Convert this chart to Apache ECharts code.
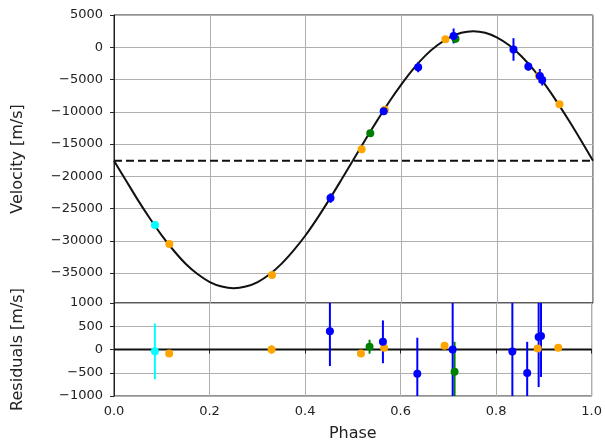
<!DOCTYPE html>
<html>
<head>
<meta charset="utf-8">
<script src="https://cdn.jsdelivr.net/npm/echarts@6/dist/echarts.min.js"></script>
<style>
  html, body { margin: 0; padding: 0; background: #fff; }
  #chart { width: 605px; height: 443px; }
</style>
</head>
<body>
<div id="chart"></div>
<script>
// Orbital fit curve, sampled along phase
const curvePhase = [0, 0.025, 0.05, 0.075, 0.1, 0.125, 0.15, 0.175, 0.2, 0.225, 0.25, 0.275, 0.3, 0.325, 0.35, 0.375, 0.4, 0.425, 0.45, 0.475, 0.5, 0.525, 0.55, 0.575, 0.6, 0.625, 0.65, 0.675, 0.7, 0.725, 0.75, 0.775, 0.8, 0.825, 0.85, 0.875, 0.9, 0.925, 0.95, 0.975, 1.0];
const curveVelocity = [-17600, -20650, -23700, -26550, -29200, -31550, -33600, -35200, -36400, -37100, -37350, -37100, -36400, -35200, -33550, -31500, -29150, -26450, -23550, -20500, -17400, -14300, -11300, -8400, -5750, -3350, -1300, 300, 1500, 2250, 2500, 2250, 1500, 300, -1350, -3400, -5800, -8500, -11400, -14450, -17600];
const systemicVelocity = -17600;

// Measurements per instrument
const cyanPhase = [0.0856];
const cyanVelocity = [-27565];
const cyanResidual = [-40];
const cyanError = [600];

const orangePhase = [0.1155, 0.3299, 0.517, 0.5655, 0.692, 0.887, 0.930];
const orangeVelocity = [-30506, -35307, -15796, -9700, 1237, -4400, -8828];
const orangeResidual = [-85, 0, -85, 40, 80, 19, 40];
const orangeError = [50, 90, 50, 50, 50, 50, 50];

const greenPhase = [0.535, 0.713];
const greenVelocity = [-13318, 1330];
const greenResidual = [60, -480];
const greenError = [150, 645];

const bluePhase = [0.452, 0.563, 0.635, 0.709, 0.834, 0.865, 0.889, 0.894];
const blueVelocity = [-23383, -9912, -3099, 1748, -342, -2973, -4446, -5065];
const blueResidual = [393, 165, -523, 0, -44, -503, 268, 290];
const blueError = [750, 460, 777, 1160, 1750, 668, 1076, 880];

const velocityTicks = [5000, 0, -5000, -10000, -15000, -20000, -25000, -30000, -35000];
const residualTicks = [1000, 500, 0, -500, -1000];
const phaseTicks = [0, 0.2, 0.4, 0.6, 0.8, 1.0];

const instruments = [
  { color: '#00ffff', phase: cyanPhase, vel: cyanVelocity, res: cyanResidual, err: cyanError },
  { color: '#ffa500', phase: orangePhase, vel: orangeVelocity, res: orangeResidual, err: orangeError },
  { color: '#008000', phase: greenPhase, vel: greenVelocity, res: greenResidual, err: greenError },
  { color: '#0000ff', phase: bluePhase, vel: blueVelocity, res: blueResidual, err: blueError }
];

const FONT = 'DejaVu Sans';
const minus = v => String(v).replace('-', '\u2212');

function errorBars(inst, values, axisIndex) {
  return {
    type: 'custom',
    xAxisIndex: axisIndex,
    yAxisIndex: axisIndex,
    clip: true,
    z: 3,
    silent: true,
    encode: { x: 0, y: 1 },
    data: inst.phase.map((p, i) => [p, values[i], inst.err[i]]),
    renderItem: (params, api) => {
      const x = api.value(0), y = api.value(1), e = api.value(2);
      const a = api.coord([x, y + e]);
      const b = api.coord([x, y - e]);
      return {
        type: 'line',
        shape: { x1: a[0], y1: a[1], x2: b[0], y2: b[1] },
        style: { stroke: inst.color, lineWidth: 2 }
      };
    }
  };
}

function markers(inst, values, axisIndex, z) {
  return {
    type: 'scatter',
    xAxisIndex: axisIndex,
    yAxisIndex: axisIndex,
    symbol: 'circle',
    symbolSize: 8,
    z: z,
    silent: true,
    itemStyle: { color: inst.color, opacity: 1 },
    data: inst.phase.map((p, i) => [p, values[i]])
  };
}

const series = [
  {
    type: 'line',
    xAxisIndex: 0, yAxisIndex: 0,
    data: curvePhase.map((p, i) => [p, curveVelocity[i]]),
    showSymbol: false, smooth: 0.3, silent: true, z: 2,
    lineStyle: { color: '#111', width: 2 }
  },
  {
    type: 'line',
    xAxisIndex: 0, yAxisIndex: 0,
    data: [[0, systemicVelocity], [1, systemicVelocity]],
    showSymbol: false, silent: true, z: 2,
    lineStyle: { color: '#111', width: 2, type: [8, 4] }
  },
  {
    type: 'line',
    xAxisIndex: 1, yAxisIndex: 1,
    data: [[0, 0], [1, 0]],
    showSymbol: false, silent: true, z: 2,
    lineStyle: { color: '#111', width: 2 }
  }
];
instruments.forEach(inst => {
  series.push(errorBars(inst, inst.vel, 0));
  series.push(errorBars(inst, inst.res, 1));
});
instruments.forEach((inst, k) => {
  series.push(markers(inst, inst.vel, 0, 4 + k));
  series.push(markers(inst, inst.res, 1, 4 + k));
});

const gridLine = { show: true, lineStyle: { color: '#b0b0b0', width: 1 } };
const axisText = { color: '#222', fontFamily: FONT, fontSize: 13 };
const nameText = { color: '#222', fontFamily: FONT, fontSize: 16 };

const chart = echarts.init(document.getElementById('chart'), null, { renderer: 'canvas' });
chart.setOption({
  animation: false,
  backgroundColor: '#fff',
  grid: [
    { left: 114, right: 12, top: 15, height: 288, show: true, borderColor: '#222', borderWidth: 1, backgroundColor: 'transparent' },
    { left: 114, right: 12, top: 303, height: 96, show: true, borderColor: '#222', borderWidth: 1, backgroundColor: 'transparent' }
  ],
  xAxis: [
    {
      gridIndex: 0, type: 'value', min: 0, max: 1, interval: 0.2,
      axisLine: { show: false }, axisTick: { show: false }, axisLabel: { show: false },
      splitLine: gridLine
    },
    {
      gridIndex: 1, type: 'value', min: 0, max: 1, interval: 0.2,
      axisLine: { show: true, lineStyle: { color: '#222' } },
      axisTick: { show: true, length: 4, lineStyle: { color: '#222' } },
      axisLabel: Object.assign({ margin: 9, formatter: v => v.toFixed(1), customValues: phaseTicks }, axisText),
      splitLine: gridLine,
      name: 'Phase', nameLocation: 'middle', nameGap: 30, nameTextStyle: nameText
    }
  ],
  yAxis: [
    {
      gridIndex: 0, type: 'value', min: -39650, max: 5000,
      axisLine: { show: true, lineStyle: { color: '#222' } },
      axisTick: { show: true, length: 4, lineStyle: { color: '#222' }, customValues: velocityTicks },
      axisLabel: Object.assign({ margin: 11, formatter: minus, customValues: velocityTicks }, axisText),
      splitLine: gridLine,
      name: 'Velocity [m/s]', nameLocation: 'middle', nameGap: 88, nameTextStyle: nameText
    },
    {
      gridIndex: 1, type: 'value', min: -1000, max: 1000, interval: 500,
      axisLine: { show: true, lineStyle: { color: '#222' } },
      axisTick: { show: true, length: 4, lineStyle: { color: '#222' } },
      axisLabel: Object.assign({ margin: 11, formatter: minus }, axisText),
      splitLine: gridLine,
      name: 'Residuals [m/s]', nameLocation: 'middle', nameGap: 88, nameTextStyle: nameText
    }
  ],
  series: series
});
</script>
</body>
</html>
